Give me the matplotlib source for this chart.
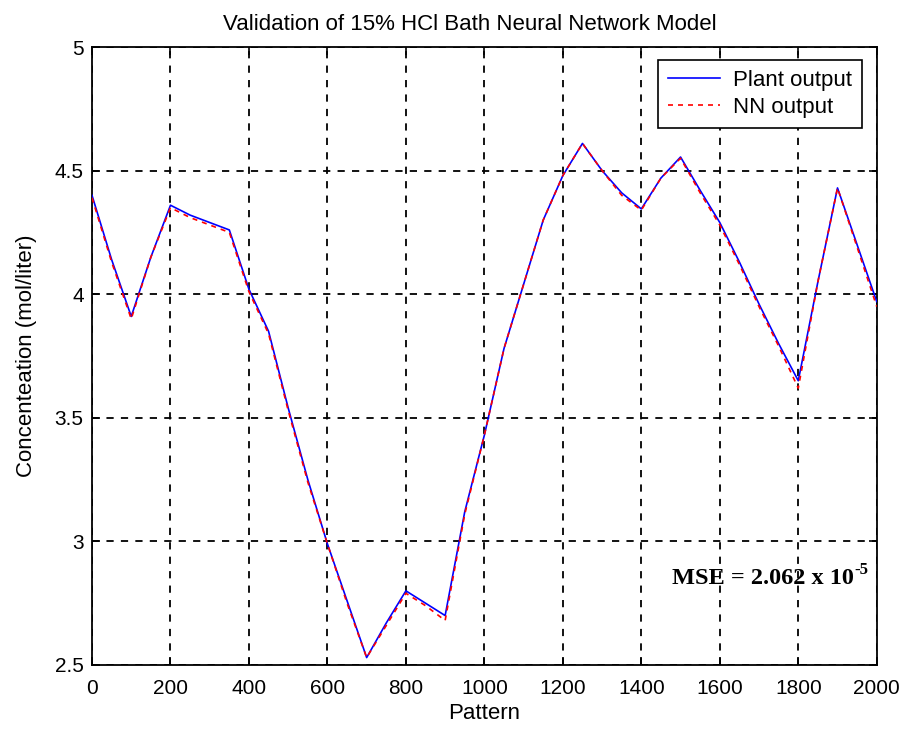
import matplotlib
matplotlib.use("Agg")
import matplotlib.pyplot as plt

pattern = [0, 50, 100, 150, 200, 250, 300, 350, 400, 450, 500, 550, 600, 650,
           700, 750, 800, 850, 900, 950, 1000, 1050, 1100, 1150, 1200, 1250,
           1300, 1350, 1400, 1450, 1500, 1550, 1600, 1650, 1700, 1750, 1800,
           1850, 1900, 1950, 2000]
plant_output = [4.40, 4.14, 3.91, 4.15, 4.36, 4.32, 4.29, 4.26, 4.02, 3.85,
                3.54, 3.25, 2.99, 2.76, 2.53, 2.67, 2.80, 2.75, 2.70, 3.12,
                3.43, 3.78, 4.04, 4.30, 4.48, 4.61, 4.50, 4.41, 4.345, 4.47,
                4.555, 4.42, 4.29, 4.13, 3.96, 3.80, 3.65, 4.05, 4.43, 4.20,
                3.97]
nn_output = [4.39, 4.13, 3.90, 4.15, 4.35, 4.31, 4.28, 4.25, 4.01, 3.84,
             3.53, 3.24, 2.99, 2.75, 2.53, 2.66, 2.79, 2.74, 2.68, 3.11,
             3.43, 3.78, 4.04, 4.30, 4.48, 4.61, 4.50, 4.40, 4.34, 4.47,
             4.55, 4.41, 4.28, 4.12, 3.95, 3.79, 3.62, 4.05, 4.43, 4.19,
             3.95]
x_ticks = [0, 200, 400, 600, 800, 1000, 1200, 1400, 1600, 1800, 2000]
y_ticks = [2.5, 3, 3.5, 4, 4.5, 5]
y_tick_labels = ["2.5", "3", "3.5", "4", "4.5", "5"]

plt.rcParams['font.family'] = ['Liberation Sans', 'DejaVu Sans']

fig = plt.figure(figsize=(9.02, 7.29), dpi=100)
ax = fig.add_axes([0.102, 0.0878, 0.870, 0.8477])

ax.plot(pattern, plant_output, color='#0000ff', lw=1.2, label='Plant output', zorder=3)
ax.plot(pattern, nn_output, color='#ff0000', lw=1.2, ls=(0, (3, 3)), label='NN output', zorder=4)

ax.set_xlim(0, 2000)
ax.set_ylim(2.5, 5)
ax.set_xticks(x_ticks)
ax.set_yticks(y_ticks)
ax.set_yticklabels(y_tick_labels)
ax.tick_params(direction='in', length=6, width=1.2, top=True, right=True,
               labelsize=15, colors='black')
ax.tick_params(axis='x', pad=10)
ax.tick_params(axis='y', pad=6)
for s in ax.spines.values():
    s.set_linewidth(1.3)
    s.set_color('black')

ax.grid(True, color='black', ls=(0, (4, 4)), lw=1.3)
ax.set_axisbelow(True)

ax.set_title('Validation of 15% HCl Bath Neural Network Model', fontsize=16, pad=12,
             x=0.4815)
ax.set_xlabel('Pattern', fontsize=16, labelpad=4)
ax.set_ylabel('Concenteation (mol/liter)', fontsize=16, labelpad=13)

leg = ax.legend(loc='upper right', fontsize=16, frameon=True, fancybox=False,
                edgecolor='black', framealpha=1, borderpad=0.45, handlelength=2.3,
                handletextpad=0.6, labelspacing=0.25, borderaxespad=0,
                bbox_to_anchor=(0.981, 0.979))
leg.get_frame().set_linewidth(1.2)

mse = ax.text(1478, 2.85, 'MSE = 2.062 x 10', fontsize=17.5,
              fontweight='bold', family='Liberation Serif', va='center', ha='left')
fig.canvas.draw()
bb = mse.get_window_extent()
fig.text(bb.x1 / fig.bbox.width + 0.001, (bb.y1 - 2) / fig.bbox.height, '-5',
         fontsize=12, fontweight='bold', family='Liberation Serif',
         va='center', ha='left')

fig.savefig('out.png', dpi=100)
